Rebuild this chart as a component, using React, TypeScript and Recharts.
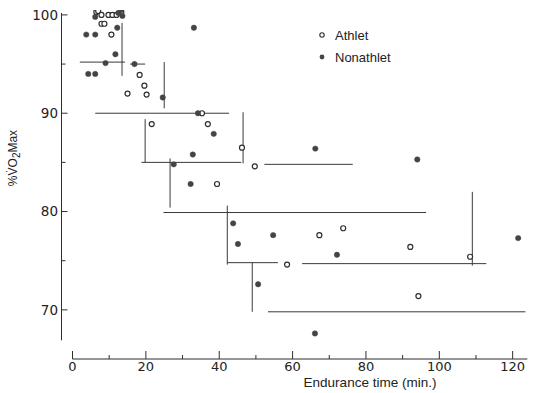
import React from 'react';
import { ScatterChart, Scatter, XAxis, YAxis, ReferenceLine, Legend, Label } from 'recharts';

// Athlete (open circles): endurance time (min), %VO2max
const athlete = [
  { t: 6.5, v: 100.3 }, { t: 7.0, v: 100.4 }, { t: 7.9, v: 100.0 }, { t: 9.8, v: 100.0 },
  { t: 10.9, v: 100.0 }, { t: 12.0, v: 100.0 }, { t: 13.3, v: 100.3 }, { t: 7.9, v: 99.1 },
  { t: 8.7, v: 99.1 }, { t: 10.6, v: 98.0 }, { t: 18.3, v: 93.9 }, { t: 19.6, v: 92.8 },
  { t: 15.0, v: 92.0 }, { t: 20.2, v: 91.9 }, { t: 35.3, v: 90.0 }, { t: 21.6, v: 88.9 },
  { t: 36.9, v: 88.9 }, { t: 46.2, v: 86.5 }, { t: 49.7, v: 84.6 }, { t: 39.4, v: 82.8 },
  { t: 67.3, v: 77.6 }, { t: 73.8, v: 78.3 }, { t: 58.5, v: 74.6 }, { t: 108.4, v: 75.4 },
  { t: 94.3, v: 71.4 }, { t: 92.1, v: 76.4 },
];

// Nonathlete (filled circles)
const nonathlete = [
  { t: 6.2, v: 99.8 }, { t: 12.5, v: 100.2 }, { t: 13.3, v: 100.5 }, { t: 13.6, v: 99.9 },
  { t: 12.2, v: 98.7 }, { t: 3.75, v: 98.0 }, { t: 6.2, v: 98.0 }, { t: 11.7, v: 96.0 },
  { t: 9.0, v: 95.1 }, { t: 4.3, v: 94.0 }, { t: 6.2, v: 94.0 }, { t: 16.9, v: 95.0 },
  { t: 24.6, v: 91.6 }, { t: 33.1, v: 98.7 }, { t: 34.2, v: 90.0 }, { t: 38.5, v: 87.9 },
  { t: 32.8, v: 85.8 }, { t: 27.6, v: 84.8 }, { t: 32.2, v: 82.8 }, { t: 66.2, v: 86.4 },
  { t: 43.8, v: 78.8 }, { t: 45.1, v: 76.7 }, { t: 54.7, v: 77.6 }, { t: 72.1, v: 75.6 },
  { t: 50.6, v: 72.6 }, { t: 66.1, v: 67.6 }, { t: 94.0, v: 85.3 }, { t: 121.5, v: 77.3 },
];

// Step outline: horizontal segments (from t1 to t2 at level v)
const hSegments = [
  { t1: 2.0, t2: 14.3, v: 95.2 }, { t1: 15.7, t2: 19.8, v: 95.0 },
  { t1: 6.2, t2: 42.7, v: 90.0 }, { t1: 18.8, t2: 46.0, v: 85.0 },
  { t1: 52.3, t2: 76.4, v: 84.8 }, { t1: 24.8, t2: 96.4, v: 79.9 },
  { t1: 42.2, t2: 56.0, v: 74.8 }, { t1: 62.6, t2: 112.8, v: 74.7 },
  { t1: 53.3, t2: 123.5, v: 69.8 },
];

// Vertical segments (at t from v1 to v2)
const vSegments = [
  { t: 13.5, v1: 93.8, v2: 99.2 }, { t: 25.0, v1: 90.5, v2: 95.2 },
  { t: 19.8, v1: 85.0, v2: 89.4 }, { t: 46.5, v1: 84.9, v2: 90.1 },
  { t: 26.6, v1: 80.4, v2: 85.4 }, { t: 42.2, v1: 74.6, v2: 80.6 },
  { t: 49.0, v1: 69.8, v2: 74.8 }, { t: 109.0, v1: 74.5, v2: 82.0 },
];

const xTicks = [0, 10, 20, 30, 40, 50, 60, 70, 80, 90, 100, 110, 120];
const yTicks = [70, 75, 80, 85, 90, 95, 100];
const legendItems = [
  { label: 'Athlet', open: true },
  { label: 'Nonathlet', open: false },
];

const INK = '#2e2e2e';
const NUM_FONT = 'DejaVu Sans';
const TXT_FONT = 'Liberation Sans';

const OpenDot = (p: any) => (
  <circle cx={p.cx} cy={p.cy} r={2.5} fill="#fff" stroke={INK} strokeWidth={1.2} />
);
const FilledDot = (p: any) => (
  <circle cx={p.cx} cy={p.cy} r={2.7} fill="#444" stroke="#444" strokeWidth={0.5} />
);

const YTick = (props: any) => {
  const { x, y, payload } = props;
  const major = payload.value % 10 === 0;
  return (
    <g>
      <line x1={x} y1={y} x2={x + (major ? 6 : 4)} y2={y} stroke={INK} strokeWidth={1} />
      {major && (
        <text x={x - 3.5} y={y} dy="0.36em" textAnchor="end" fontSize={13.5} fontFamily={NUM_FONT} fill="#222">
          {payload.value}
        </text>
      )}
    </g>
  );
};

const XTick = (props: any) => {
  const { x, y, payload } = props;
  const major = payload.value % 20 === 0;
  return (
    <g>
      <line x1={x} y1={y} x2={x} y2={y - (major ? 8 : 4)} stroke={INK} strokeWidth={1} />
      {major && (
        <text x={x} y={y + 12} textAnchor="middle" fontSize={13} fontFamily={NUM_FONT} fill="#222">
          {payload.value}
        </text>
      )}
    </g>
  );
};

const LegendContent = () => (
  <div style={{ fontFamily: TXT_FONT, fontSize: 13, color: '#222' }}>
    {legendItems.map((it) => (
      <div key={it.label} style={{ display: 'flex', alignItems: 'center', height: 22 }}>
        <svg width={17} height={10} style={{ display: 'block' }}>
          {it.open ? (
            <circle cx={4} cy={5} r={2.2} fill="#fff" stroke={INK} strokeWidth={1.1} />
          ) : (
            <circle cx={4} cy={5} r={2.4} fill="#444" />
          )}
        </svg>
        <span>{it.label}</span>
      </div>
    ))}
  </div>
);

export default function App() {
  return (
    <div style={{ position: 'absolute', left: 0, top: 0, width: 541, height: 393, background: '#fff' }}>
      <ScatterChart width={541} height={393} margin={{ top: 10, right: 10, bottom: 0, left: 0 }}>
        <XAxis
          type="number"
          dataKey="t"
          domain={[-3, 125]}
          allowDataOverflow
          ticks={xTicks}
          interval={0}
          axisLine={false}
          tickLine={false}
          tickSize={0}
          tickMargin={0}
          height={34}
          tick={<XTick />}
        >
          <Label
            content={(p: any) => (
              <text
                x={p.viewBox.x + 308.5}
                y={p.viewBox.y + 28}
                textAnchor="middle"
                fontSize={13.5}
                fontFamily={TXT_FONT}
                fill="#222"
              >
                Endurance time (min.)
              </text>
            )}
          />
        </XAxis>
        <YAxis
          type="number"
          dataKey="v"
          domain={[65, 100.5]}
          allowDataOverflow
          ticks={yTicks}
          interval={0}
          axisLine={false}
          tickLine={false}
          tickSize={0}
          tickMargin={0}
          width={61.5}
          tick={<YTick />}
        >
          <Label
            content={(p: any) => {
              const cx = p.viewBox.x + 13;
              const cy = p.viewBox.y + 148;
              return (
                <text
                  x={cx}
                  y={cy}
                  dy="0.36em"
                  transform={`rotate(-90 ${cx} ${cy})`}
                  textAnchor="middle"
                  fontSize={12}
                  fontFamily={TXT_FONT}
                  fill="#222"
                >
                  %V̇O<tspan dy={3} fontSize={10}>2</tspan>
                  <tspan dy={-3}>Max</tspan>
                </text>
              );
            }}
          />
        </YAxis>
        {/* axis lines */}
        <ReferenceLine
          segment={[{ x: -3, y: 66.9 }, { x: -3, y: 100.2 }]}
          stroke={INK}
          strokeWidth={1}
          ifOverflow="visible"
        />
        <ReferenceLine
          segment={[{ x: 0, y: 65 }, { x: 124, y: 65 }]}
          stroke={INK}
          strokeWidth={1}
          ifOverflow="visible"
        />
        {hSegments.map((s, i) => (
          <ReferenceLine
            key={'h' + i}
            segment={[{ x: s.t1, y: s.v }, { x: s.t2, y: s.v }]}
            stroke="#3a3a3a"
            strokeWidth={1}
            ifOverflow="visible"
          />
        ))}
        {vSegments.map((s, i) => (
          <ReferenceLine
            key={'v' + i}
            segment={[{ x: s.t, y: s.v1 }, { x: s.t, y: s.v2 }]}
            stroke="#3a3a3a"
            strokeWidth={1}
            ifOverflow="visible"
          />
        ))}
        <Scatter name="Athlet" data={athlete} shape={OpenDot} isAnimationActive={false} />
        <Scatter name="Nonathlet" data={nonathlete} shape={FilledDot} isAnimationActive={false} />
        <Legend
          layout="vertical"
          align="center"
          verticalAlign="middle"
          wrapperStyle={{ left: 318, top: 24 }}
          content={<LegendContent />}
        />
      </ScatterChart>
    </div>
  );
}
